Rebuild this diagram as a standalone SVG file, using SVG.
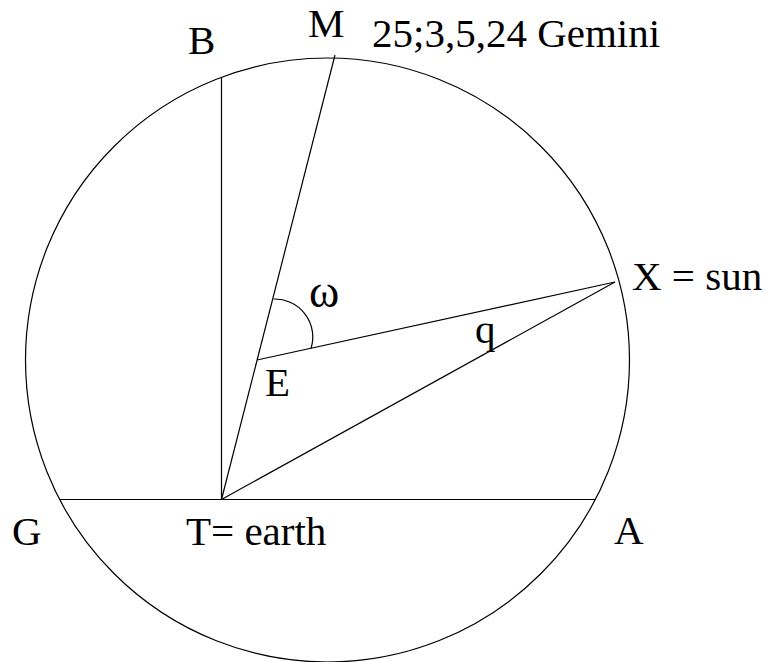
<svg xmlns="http://www.w3.org/2000/svg" width="771" height="662" viewBox="0 0 771 662">
<style>
.l{stroke:#000;stroke-width:1.2;fill:none}
.t{font-family:"Liberation Serif","Times New Roman",serif;font-size:41px;fill:#000}
</style>
<rect width="771" height="662" fill="#fff"/>
<g id="circle"><circle class="l" cx="327.5" cy="360" r="302"/></g>
<g id="connectors">
<line class="l" x1="221.5" y1="77.5" x2="221.5" y2="499.5"/>
<line class="l" x1="59.7" y1="499.5" x2="595.3" y2="499.5"/>
<line class="l" x1="221.5" y1="499.5" x2="335" y2="55"/>
<line class="l" x1="257" y1="360" x2="615" y2="282"/>
<line class="l" x1="221.5" y1="499.5" x2="615" y2="282"/>
<path class="l" d="M273.5 299 A38 38 0 0 1 311 348.5"/>
</g>
<g id="B"><text class="t" x="188" y="54">B</text></g>
<g id="M"><text class="t" x="308" y="37">M</text></g>
<g id="Mlabel"><text class="t" x="372" y="47">25;3,5,24 Gemini</text></g>
<g id="omega"><text class="t" x="309" y="307" style="font-size:46px">ω</text></g>
<g id="E"><text class="t" x="265" y="396">E</text></g>
<g id="q"><text class="t" x="475" y="343">q</text></g>
<g id="X"><text class="t" x="632" y="290">X = sun</text></g>
<g id="G"><text class="t" x="12" y="545">G</text></g>
<g id="T"><text class="t" x="186" y="545">T= earth</text></g>
<g id="A"><text class="t" x="614" y="544">A</text></g>
</svg>
